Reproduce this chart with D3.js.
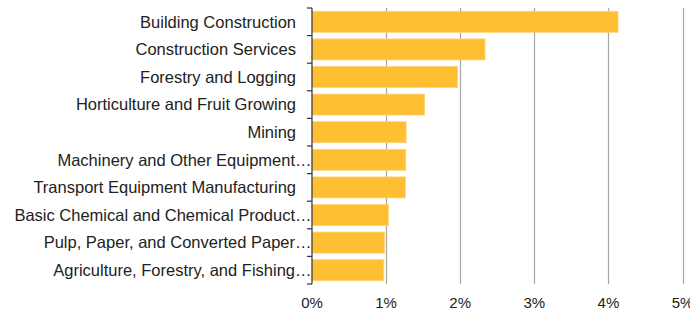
<!DOCTYPE html>
<html>
<head>
<meta charset="utf-8">
<script src="https://cdn.jsdelivr.net/npm/d3@7"></script>
<style>
  body { margin: 0; background: #fff; }
  text { font-family: "Liberation Sans", Arial, sans-serif; }
</style>
</head>
<body>
<script>
// categories, top to bottom
var categories = [
  "Building Construction",
  "Construction Services",
  "Forestry and Logging",
  "Horticulture and Fruit Growing",
  "Mining",
  "Machinery and Other Equipment…",
  "Transport Equipment Manufacturing",
  "Basic Chemical and Chemical Product…",
  "Pulp, Paper, and Converted Paper…",
  "Agriculture, Forestry, and Fishing…"
];
// share, in percent
var values = [4.13, 2.335, 1.965, 1.52, 1.27, 1.265, 1.26, 1.03, 0.98, 0.97];
var xTicks = [0, 1, 2, 3, 4, 5];

var width = 690, height = 310;
// plot area (note: "top" is a reserved window property, so use plot* names)
var plotLeft = 312, plotRight = 682.5, plotTop = 8, plotBottom = 284;

var svg = d3.select("body")
  .append("svg")
  .attr("width", width)
  .attr("height", height);

var x = d3.scaleLinear().domain([0, 5]).range([plotLeft, plotRight]);
var y = d3.scaleBand().domain(categories).range([plotTop, plotBottom]).paddingInner(0.24).paddingOuter(0.12);

// gridlines
svg.append("g")
  .selectAll("line")
  .data(xTicks.slice(1))
  .enter().append("line")
  .attr("x1", function (d) { return Math.round(x(d)) + 0.5; })
  .attr("x2", function (d) { return Math.round(x(d)) + 0.5; })
  .attr("y1", plotTop)
  .attr("y2", plotBottom)
  .attr("stroke", "#a6a6a6")
  .attr("stroke-width", 1.2);

// bars
svg.append("g")
  .selectAll("rect")
  .data(values)
  .enter().append("rect")
  .attr("x", x(0))
  .attr("y", function (d, i) { return y(categories[i]); })
  .attr("width", function (d) { return x(d) - x(0); })
  .attr("height", y.bandwidth())
  .attr("fill", "#fec032")
  .attr("stroke", "#fed377")
  .attr("stroke-width", 0.8);

// y axis line and ticks at band edges
var edges = categories.map(function (c) { return y(c) - y.step() * y.paddingInner() / 2; });
edges.push(plotBottom);
edges[0] = plotTop;
svg.append("line")
  .attr("x1", plotLeft).attr("x2", plotLeft)
  .attr("y1", plotTop).attr("y2", plotBottom)
  .attr("stroke", "#333").attr("stroke-width", 1.2);
svg.append("g")
  .selectAll("line")
  .data(edges)
  .enter().append("line")
  .attr("x1", plotLeft - 5).attr("x2", plotLeft)
  .attr("y1", function (d) { return d; })
  .attr("y2", function (d) { return d; })
  .attr("stroke", "#333").attr("stroke-width", 1.2);

// category labels
svg.append("g")
  .selectAll("text")
  .data(categories)
  .enter().append("text")
  .attr("x", function (d) { return d.slice(-1) === "…" ? plotLeft - 0.5 : plotLeft - 16; })
  .attr("y", function (d) { return y(d) + y.bandwidth() / 2; })
  .attr("dy", "0.35em")
  .attr("text-anchor", "end")
  .attr("font-size", 16.5)
  .attr("fill", "#222")
  .text(function (d) { return d; });

// x tick labels
svg.append("g")
  .selectAll("text")
  .data(xTicks)
  .enter().append("text")
  .attr("x", function (d) { return x(d); })
  .attr("y", 308)
  .attr("text-anchor", "middle")
  .attr("font-size", 15)
  .attr("fill", "#222")
  .text(function (d) { return d + "%"; });
</script>
</body>
</html>
